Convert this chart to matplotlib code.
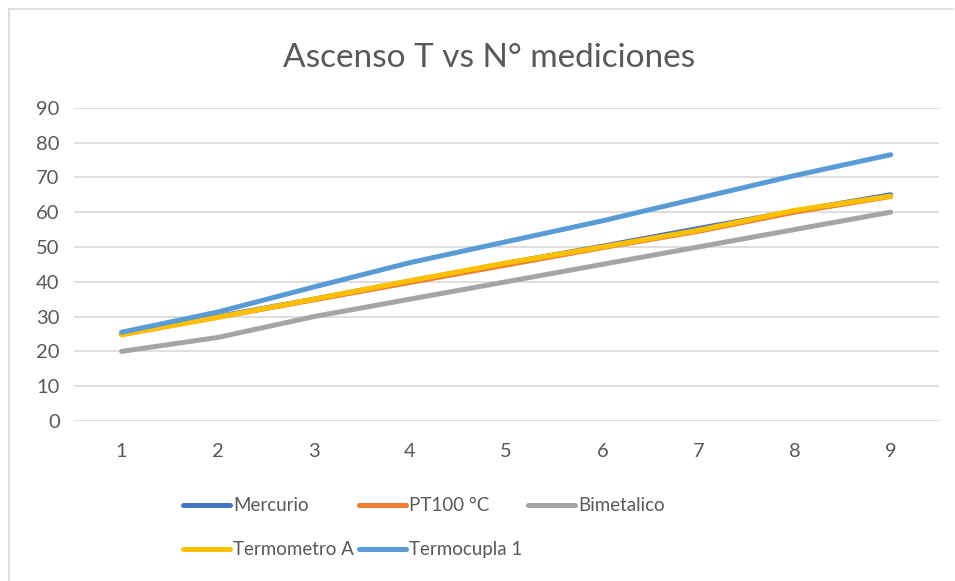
import matplotlib
matplotlib.use("Agg")
import matplotlib.pyplot as plt
from matplotlib.lines import Line2D

# mediciones
mediciones = [1, 2, 3, 4, 5, 6, 7, 8, 9]
mercurio = [25, 30, 35, 40.2, 45.3, 50.2, 55.3, 60.3, 65]
pt100 = [24.8, 29.8, 34.8, 39.8, 44.8, 49.8, 54.5, 60, 64.5]
bimetalico = [20, 24, 30, 35, 40, 45, 50, 55, 60]
termometro_a = [24.8, 29.8, 35, 40.3, 45.4, 50, 54.8, 60.5, 64.6]
termocupla_1 = [25.5, 31.3, 38.5, 45.5, 51.5, 57.5, 64, 70.5, 76.5]

series = [
    ("Mercurio", mercurio, "#4472C4"),
    ("PT100 °C", pt100, "#ED7D31"),
    ("Bimetalico", bimetalico, "#A5A5A5"),
    ("Termometro A", termometro_a, "#FFC000"),
    ("Termocupla 1", termocupla_1, "#5B9BD5"),
]

txt = "#595959"
plt.rcParams['font.family'] = ['Lato', 'DejaVu Sans']

fig = plt.figure(figsize=(9.55, 5.81), dpi=100)
ax = fig.add_axes([0.077, 0.2754, 0.906, 0.5392])

for name, vals, col in series:
    ax.plot(mediciones, vals, color=col, linewidth=3.6, solid_capstyle='round',
            solid_joinstyle='round', label=name)

ax.set_xlim(0.5, 9.5)
ax.set_ylim(0, 90)
ax.set_yticks(range(0, 91, 10))
ax.set_xticks(mediciones)
ax.grid(axis='y', color='#D9D9D9', linewidth=1.2)
ax.set_axisbelow(True)
for s in ax.spines.values():
    s.set_visible(False)
ax.tick_params(length=0, labelsize=14.5, labelcolor=txt)
ax.tick_params(axis='y', pad=10)
ax.tick_params(axis='x', pad=16)

fig.text(0.512, 0.9, "Ascenso T vs N° mediciones", ha='center', va='center',
         fontsize=24, color=txt)

# legend laid out in columns: Mercurio/Termometro A, PT100/Termocupla, Bimetalico
order = [0, 3, 1, 4, 2]
handles = [Line2D([], [], color=series[i][2], linewidth=3.6, solid_capstyle='round')
           for i in order]
labels = [series[i][0] for i in order]
fig.legend(handles, labels, ncol=3, loc='upper left', bbox_to_anchor=(0.184, 0.157),
           frameon=False, fontsize=13.5, labelcolor=txt, handlelength=2.5,
           handletextpad=0.15, columnspacing=0.3, labelspacing=1.45, borderaxespad=0)

# chart frame
fig.add_artist(Line2D([9 / 955, 9 / 955], [0, 1 - 9 / 581], color='#D9D9D9',
                      linewidth=1.2, transform=fig.transFigure))
fig.add_artist(Line2D([9 / 955, 953 / 955], [1 - 9 / 581, 1 - 9 / 581], color='#D9D9D9',
                      linewidth=1.2, transform=fig.transFigure))

fig.savefig("out.png", dpi=100)
